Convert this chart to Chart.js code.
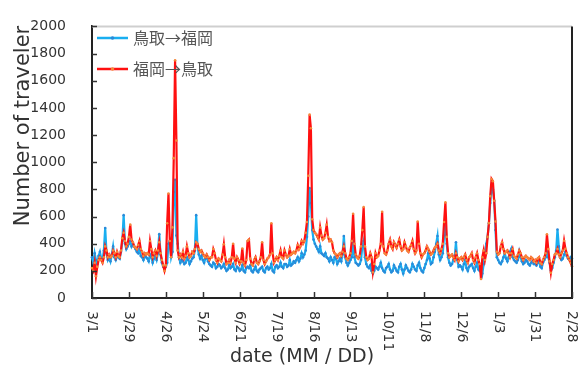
<!DOCTYPE html>
<html><head><meta charset="utf-8">
<script src="https://cdn.jsdelivr.net/npm/chart.js@4"></script>
<style>html,body{margin:0;padding:0;background:#fff;}canvas{display:block;}</style>
</head><body>
<canvas id="c" width="583" height="369"></canvas>
<script>
// ---- data ----
const seriesNames = ['鳥取→福岡', '福岡→鳥取'];
const tickLabels = ['3/1','3/29','4/26','5/24','6/21','7/19','8/16','9/13','10/11','11/8','12/6','1/3','1/31','2/28'];
const tickDays = [0,28,56,84,112,140,168,196,224,252,280,308,336,364];
const yTicks = [0,200,400,600,800,1000,1200,1400,1600,1800,2000];

// 鳥取→福岡 (daily, 3/1 .. 2/28)
const tottoriToFukuoka = [
 300,260,330,280,250,310,340, 290,280,350,516,330,280,300, 270,320,380,300,280,310,300,
 290,340,420,610,400,360,380, 400,420,380,400,380,360,340, 330,360,310,300,280,310,300,
 290,270,320,300,260,290,310, 280,330,470,320,260,230,220, 230,260,400,420,300,340,780,
 870,460,400,300,260,280,270, 250,260,300,280,250,270,290, 300,350,610,380,320,290,310,
 280,260,290,300,270,250,240, 230,260,250,220,230,250,240, 220,230,250,220,200,210,240,
 220,230,250,210,200,230,220, 200,210,240,200,190,220,230, 220,240,200,190,210,230,200,
 190,210,220,230,200,190,220, 230,210,220,250,200,190,230, 240,220,230,260,230,220,250,
 250,230,240,280,240,250,270, 260,280,300,270,290,330,300, 320,350,450,600,810,700,500,
 430,400,380,360,340,380,330, 320,310,330,300,290,270,300, 280,260,300,290,250,270,290,
 270,320,457,300,260,240,260, 280,300,420,300,260,250,240, 250,280,380,420,300,250,230,
 220,240,200,180,200,230,220, 210,230,260,220,200,190,220, 230,250,210,190,200,240,220,
 200,190,230,250,210,180,210, 240,220,200,190,210,250,230, 210,200,240,260,220,200,190,
 220,250,280,330,290,250,260, 300,340,400,457,320,280,300, 330,460,570,400,300,260,240,
 250,280,300,410,280,230,240, 230,210,250,280,220,200,230, 240,250,220,200,230,260,210,
 200,220,180,250,330,400,450, 550,700,820,800,716,500,300, 280,260,250,270,300,330,290,
 270,300,340,363,300,280,270, 260,280,340,300,270,250,260, 280,270,250,240,260,270,250,
 250,240,260,270,230,220,260, 280,300,340,300,260,200,220, 260,300,350,504,380,300,280,
 290,320,340,310,290,280,300, 290
];
// 福岡→鳥取 (daily, 3/1 .. 2/28)
const fukuokaToTottori = [
 220,200,260,160,230,280,300, 280,260,300,380,350,300,320, 300,310,350,330,300,340,310,
 300,350,440,480,420,380,400, 450,540,430,410,380,370,360, 390,420,360,340,310,330,320,
 330,320,420,360,300,330,350, 310,350,410,330,280,240,200, 240,550,770,420,300,520,1030,
 1750,1160,350,300,320,300,340, 290,310,380,330,300,310,340, 330,360,410,400,360,340,350,
 330,310,300,320,300,280,300, 300,360,330,280,260,290,280, 270,320,395,300,250,260,280,
 260,300,400,290,260,300,280, 250,270,365,260,240,280,420, 430,290,250,240,280,300,260,
 250,270,300,410,280,250,270, 290,300,320,550,330,260,280, 300,280,310,350,300,290,350,
 320,300,310,360,320,330,340, 330,350,390,360,380,420,400, 420,480,560,900,1350,1250,580,
 500,480,470,450,430,520,460, 430,440,480,540,450,420,430, 410,350,330,320,300,320,330,
 310,340,380,330,290,280,300, 330,420,620,400,320,300,290, 310,380,500,670,380,300,280,
 290,330,300,190,250,330,300, 310,350,400,635,380,330,320, 350,400,430,380,360,410,390,
 370,400,430,380,350,360,410, 380,350,340,370,390,420,360, 330,350,563,400,330,300,320,
 330,350,380,360,340,320,330, 350,370,380,400,350,330,360, 400,560,704,450,330,300,310,
 320,300,280,330,300,270,290, 300,280,300,320,280,260,300, 310,330,280,260,300,330,280,
 250,140,300,350,280,330,450, 551,750,876,860,716,563,340, 320,330,380,410,360,330,340,
 350,330,300,330,360,310,300, 290,320,350,330,300,280,300, 310,300,290,280,300,290,270,
 280,260,290,300,260,250,280, 300,330,469,360,270,186,250, 280,320,330,360,320,300,330,
 350,422,363,330,300,280,260, 233
];

// categories: dates 3/1 .. 2/28
const dayLabels = [];
{ const d = new Date(2015, 2, 1);
  for (let i = 0; i < tottoriToFukuoka.length; i++) {
    dayLabels.push((d.getMonth() + 1) + '/' + d.getDate());
    d.setDate(d.getDate() + 1);
  } }

const BLUE = '#19aef0', BLUE_PT = '#2a8ad8';
const RED = '#ff1010', RED_PT = '#f5883a';

const overlay = {
  id: 'overlay',
  afterDraw(chart) {
    const { ctx, chartArea: a, scales: { x, y } } = chart;
    ctx.save();
    // frame
    ctx.lineWidth = 2;
    ctx.strokeStyle = '#cfcfcf';
    ctx.beginPath(); ctx.moveTo(a.left, a.top); ctx.lineTo(a.right, a.top); ctx.stroke();
    ctx.strokeStyle = '#222';
    ctx.beginPath(); ctx.moveTo(a.right, a.top); ctx.lineTo(a.right, a.bottom); ctx.stroke();
    // inside ticks
    ctx.lineWidth = 1.5;
    ctx.strokeStyle = '#333';
    yTicks.forEach(v => {
      const py = Math.round(y.getPixelForValue(v)) + 0.5;
      ctx.beginPath(); ctx.moveTo(a.left, py); ctx.lineTo(a.left + 5, py); ctx.stroke();
    });
    tickDays.forEach(d => {
      const px = Math.round(x.getPixelForValue(d)) + 0.5;
      ctx.beginPath(); ctx.moveTo(px, a.bottom); ctx.lineTo(px, a.bottom - 6); ctx.stroke();
    });
    // x tick labels, rotated clockwise
    ctx.fillStyle = '#333';
    ctx.font = '14px "DejaVu Sans"';
    ctx.textAlign = 'left';
    ctx.textBaseline = 'middle';
    tickDays.forEach((d, i) => {
      const px = x.getPixelForValue(d);
      ctx.save();
      ctx.translate(px, a.bottom + 13);
      ctx.rotate(Math.PI / 2);
      ctx.fillText(tickLabels[i], 0, 0);
      ctx.restore();
    });
    // x title
    ctx.font = '19px "DejaVu Sans"';
    ctx.textAlign = 'center';
    ctx.fillStyle = '#333';
    ctx.fillText('date (MM / DD)', 302, 357);
    // y title
    ctx.save();
    ctx.translate(24, 126);
    ctx.rotate(-Math.PI / 2);
    ctx.font = '21px "DejaVu Sans"';
    ctx.fillText('Number of traveler', 0, 0);
    ctx.restore();
    // legend
    const items = [[BLUE, BLUE_PT, 38], [RED, RED_PT, 69]];
    items.forEach((it, i) => {
      ctx.strokeStyle = it[0];
      ctx.lineWidth = 2.5;
      ctx.beginPath(); ctx.moveTo(97, it[2]); ctx.lineTo(128, it[2]); ctx.stroke();
      ctx.fillStyle = it[1];
      ctx.beginPath(); ctx.arc(112.5, it[2], 1.8, 0, Math.PI * 2); ctx.fill();
      ctx.fillStyle = '#555';
      ctx.font = '16px "Noto Sans CJK JP"';
      ctx.textAlign = 'left';
      ctx.textBaseline = 'middle';
      ctx.fillText(seriesNames[i], 133, it[2]);
    });
    ctx.restore();
  }
};

new Chart(document.getElementById('c'), {
  type: 'line',
  data: {
    labels: dayLabels,
    datasets: [
      { label: seriesNames[0], data: tottoriToFukuoka, borderColor: BLUE, borderWidth: 2.2,
        pointRadius: 1.3, pointBackgroundColor: BLUE_PT, pointBorderWidth: 0, tension: 0, order: 2 },
      { label: seriesNames[1], data: fukuokaToTottori, borderColor: RED, borderWidth: 2.2,
        pointRadius: 1.3, pointBackgroundColor: RED_PT, pointBorderWidth: 0, tension: 0, order: 1 }
    ]
  },
  options: {
    responsive: false,
    animation: false,
    layout: { padding: { top: 15, right: 11, left: 0, bottom: 0 } },
    plugins: { legend: { display: false }, tooltip: { enabled: false } },
    scales: {
      x: {
        type: 'category',
        offset: false,
        grid: { display: false },
        border: { display: true, color: '#222', width: 2 },
        ticks: { display: false },
        afterFit(s) { s.height = 71; }
      },
      y: {
        min: 0, max: 2000,
        grid: { display: false },
        border: { display: true, color: '#222', width: 2 },
        ticks: { stepSize: 200, padding: 18, color: '#333', font: { family: 'DejaVu Sans', size: 14 },
                 callback: v => String(v) },
        afterFit(s) { s.width = 92; }
      }
    }
  },
  plugins: [overlay]
});
</script>
</body></html>
